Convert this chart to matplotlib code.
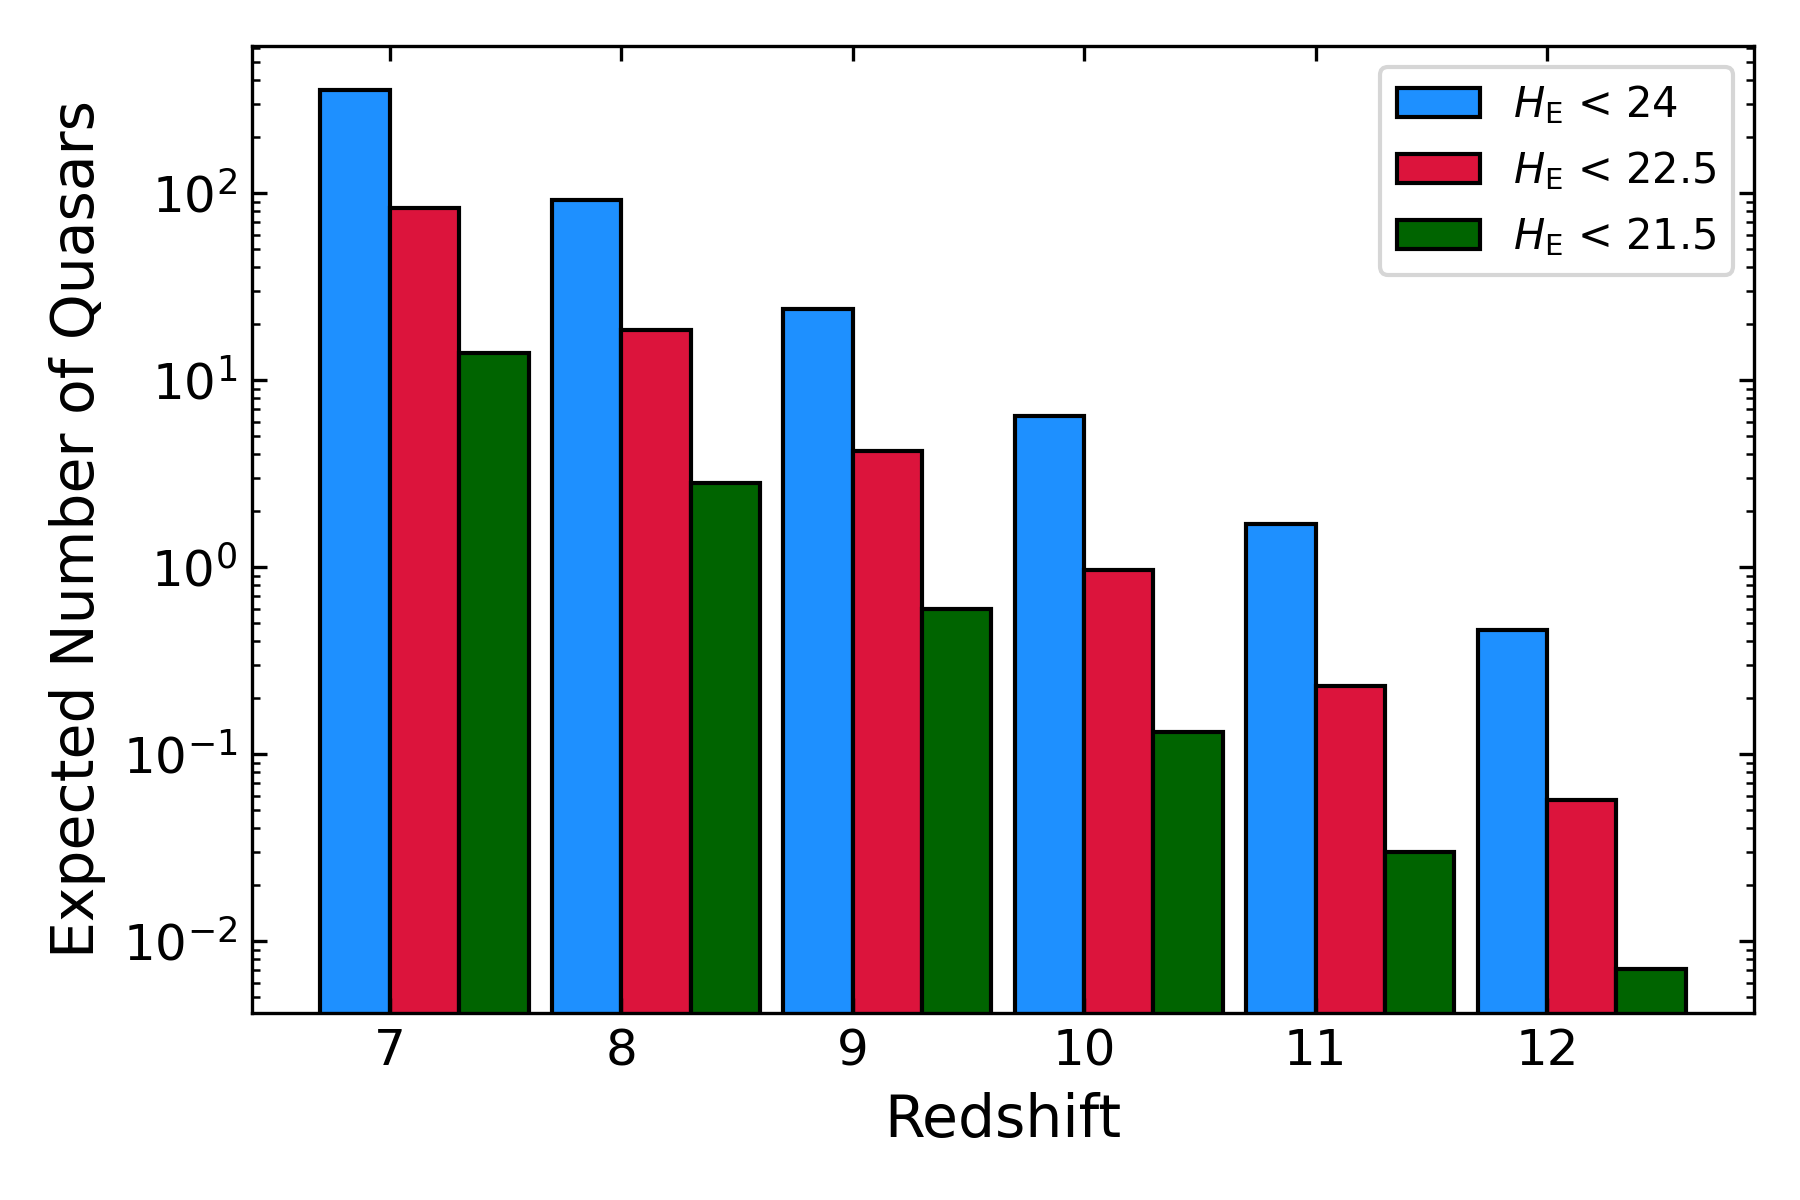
import matplotlib
matplotlib.use('Agg')
import matplotlib.pyplot as plt
import numpy as np

redshift = [7, 8, 9, 10, 11, 12]
n_h24 = [356, 92, 24, 6.4, 1.69, 0.46]
n_h225 = [83, 18.6, 4.17, 0.97, 0.230, 0.057]
n_h215 = [13.9, 2.81, 0.593, 0.131, 0.030, 0.0071]
labels = [r'$H_{\rm E}$ < 24', r'$H_{\rm E}$ < 22.5', r'$H_{\rm E}$ < 21.5']
colors = ['dodgerblue', 'crimson', 'darkgreen']

width = 0.3
z = np.array(redshift)

fig, ax = plt.subplots(figsize=(6, 4), dpi=300)
fig.subplots_adjust(left=0.140, right=0.9745, top=0.9617, bottom=0.156)

for i, (vals, lab, col) in enumerate(zip([n_h24, n_h225, n_h215], labels, colors)):
    ax.bar(z + (i - 0.5) * width, vals, width=width, color=col,
           edgecolor='black', linewidth=1, label=lab)

ax.set_yscale('log')
ax.set_xticks(redshift)
ax.set_xlabel('Redshift', fontsize=14)
ax.set_ylabel('Expected Number of Quasars', fontsize=14)
ax.tick_params(axis='both', which='both', direction='in', top=True, right=True, labelsize=12)
ax.tick_params(axis='x', which='minor', top=False, bottom=False)
ax.legend(fontsize=10, labelspacing=0.55)

fig.savefig('out.png')
